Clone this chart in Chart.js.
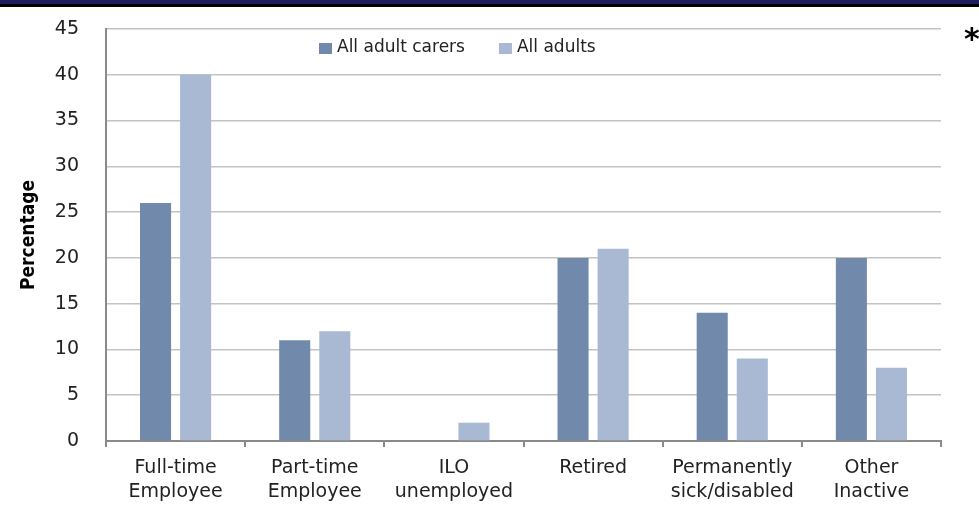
<!DOCTYPE html>
<html>
<head>
<meta charset="utf-8">
<script src="https://cdn.jsdelivr.net/npm/chart.js@4/dist/chart.umd.min.js"></script>
<style>
  html, body { margin: 0; padding: 0; background: #fff; }
  #wrap { position: relative; width: 979px; height: 510px; overflow: hidden; }
  #strip { position: absolute; left: 0; top: 0; width: 979px; height: 4px; background: #1b1f5f; border-bottom: 3px solid #000; }
  #star { position: absolute; left: 964px; top: 24px; font: bold 30px 'DejaVu Sans', sans-serif; color: #000; line-height: 1; }
  canvas { position: absolute; left: 0; top: 0; }
</style>
</head>
<body>
<div id="wrap">
  <canvas id="chart" width="979" height="510"></canvas>
  <div id="strip"></div>
  <div id="star">*</div>
</div>
<script>
const categories = [
  ['Full-time', 'Employee'],
  ['Part-time', 'Employee'],
  ['ILO', 'unemployed'],
  ['Retired'],
  ['Permanently', 'sick/disabled'],
  ['Other', 'Inactive']
];
const carersValues = [26, 11, 0, 20, 14, 20];
const adultsValues = [40, 12, 2, 21, 9, 8];
const seriesNames = ['All adult carers', 'All adults'];
const seriesColors = ['#7189ab', '#a9b9d4'];

const AXIS_GREY = '#8a8a8a';
const GRID_GREY = '#c3c3c3';
const TEXT = '#222';
const SANS = '"DejaVu Sans", sans-serif';
const NARROW_BOLD = '"Liberation Sans Narrow", "DejaVu Sans Condensed", "Liberation Sans", sans-serif';

// legend sits inside the plot, just under the top gridline
const innerLegend = {
  id: 'innerLegend',
  afterDraw(chart) {
    const { ctx, chartArea } = chart;
    ctx.save();
    ctx.font = '17px ' + SANS;
    ctx.textBaseline = 'middle';
    let x = chartArea.left + 213;
    const y = chartArea.top + 19;
    chart.data.datasets.forEach((ds) => {
      ctx.fillStyle = ds.backgroundColor;
      ctx.fillRect(x, y - 5, 13, 11);
      x += 18;
      ctx.fillStyle = TEXT;
      ctx.fillText(ds.label, x, y);
      x += ctx.measureText(ds.label).width + 34;
    });
    ctx.restore();
  }
};

new Chart(document.getElementById('chart'), {
  type: 'bar',
  data: {
    labels: categories,
    datasets: [
      { label: seriesNames[0], data: carersValues, backgroundColor: seriesColors[0] },
      { label: seriesNames[1], data: adultsValues, backgroundColor: seriesColors[1] }
    ]
  },
  options: {
    responsive: false,
    animation: false,
    devicePixelRatio: 1,
    layout: { padding: { left: 0, right: 38, top: 29, bottom: 0 } },
    datasets: {
      bar: { barPercentage: 0.775, categoryPercentage: 0.576 }
    },
    plugins: {
      legend: { display: false },
      tooltip: { enabled: false }
    },
    scales: {
      x: {
        grid: {
          offset: true,
          drawOnChartArea: false,
          drawTicks: true,
          tickLength: 6,
          color: AXIS_GREY,
          lineWidth: 2
        },
        border: { color: AXIS_GREY, width: 2 },
        ticks: {
          color: TEXT,
          padding: 9,
          maxRotation: 0,
          autoSkip: false,
          font: { family: SANS, size: 19, lineHeight: 1.27 }
        },
        afterFit(scale) { scale.height = 69; }
      },
      y: {
        min: 0,
        max: 45,
        ticks: {
          stepSize: 5,
          color: TEXT,
          padding: 27,
          font: { family: SANS, size: 19 }
        },
        grid: { color: GRID_GREY, lineWidth: 1.5, drawTicks: false },
        border: { color: AXIS_GREY, width: 2 },
        title: {
          display: true,
          text: 'Percentage',
          color: '#000',
          padding: { top: 18, bottom: 0 },
          font: { family: NARROW_BOLD, size: 19, weight: 'bold' }
        },
        afterFit(scale) {
          // big label padding would otherwise push the plot down
          scale.width = 106;
          scale.paddingTop = 0;
          scale.paddingBottom = 0;
        }
      }
    }
  },
  plugins: [innerLegend]
});
</script>
</body>
</html>
